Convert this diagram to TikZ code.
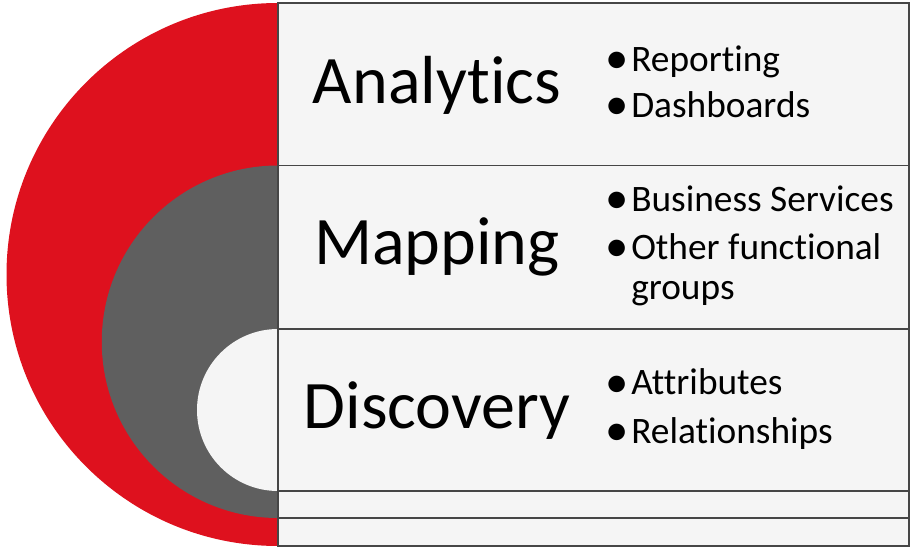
\documentclass[tikz,border=0pt]{standalone}
\usepackage{fontspec}
\setmainfont{Carlito}[Ligatures=NoCommon]
\usetikzlibrary{positioning}
\definecolor{ringred}{RGB}{222,17,30}
\definecolor{ringgray}{RGB}{95,95,95}
\definecolor{boxfill}{RGB}{245,245,245}
\definecolor{boxline}{RGB}{70,70,70}
\newcommand\bul[1]{\makebox[18pt][l]{\hspace{-1.5pt}\raisebox{-1.5pt}{\scalebox{1.25}{\textbullet}}}#1}

\begin{document}
\begin{tikzpicture}[
    x = 0.75pt, y = 0.75pt,
    B/.style = {fill=boxfill, draw=boxline, line width=0.9pt},
    T/.style = {anchor=base, inner sep=0pt, font=\fontsize{51}{56}\selectfont},
    L/.style = {anchor=base west, inner sep=0pt, font=\fontsize{28}{30}\selectfont}
                    ]
\useasboundingbox (0,0) rectangle (911,547);
% outer ring and box
\fill[ringred]  (278,1) arc[start angle=270, end angle=90, radius=271.5] -- cycle;
\draw[B]        (278,1) rectangle (909,544);
% middle ring and box
\fill[ringgray] (278,29) arc[start angle=270, end angle=90, radius=176.25] -- cycle;
\draw[B]        (278,29) rectangle (909,381.5);
% inner disc and box
\fill[boxfill]  (278,56) arc[start angle=270, end angle=90, radius=81] -- cycle;
\draw[B]        (278,56) rectangle (909,218);
%
\node (ana) [T] at (437,443) {Analytics};
\node (map) [T] at (437,282) {Mapping};
\node (dis) [T] at (437,119) {Discovery};
%
\node (rep) [L] at (607,475) {\bul{Reporting}};
\node (dsh) [L] at (607,429) {\bul{Dashboards}};
\node (bus) [L] at (607,335) {\bul{Business Services}};
\node (oth) [L] at (607,287) {\bul{Other functional}};
\node (grp) [L] at (631,247) {groups};
\node (att) [L] at (607,152) {\bul{Attributes}};
\node (rel) [L] at (607,104) {\bul{Relationships}};
\end{tikzpicture}
\end{document}
